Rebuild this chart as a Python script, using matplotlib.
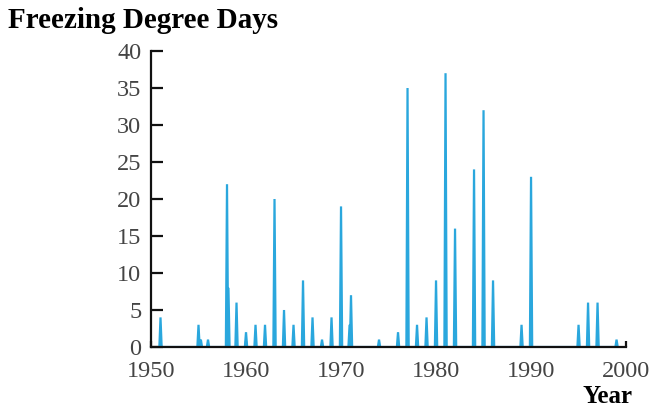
import numpy as np
import matplotlib
matplotlib.use("Agg")
import matplotlib.pyplot as plt

# peak of each winter's freezing degree days (time in years)
years = [1951, 1955, 1955.25, 1956, 1958, 1958.15, 1959, 1960, 1961, 1962,
         1963, 1964, 1965, 1966, 1967, 1968, 1969, 1970, 1970.9, 1971.05,
         1974, 1976, 1977, 1978, 1979, 1980, 1981, 1982, 1984, 1985,
         1986, 1989, 1990, 1995, 1996, 1997, 1999]
fdd = [4, 3, 1, 1, 22, 8, 6, 2, 3, 3,
       20, 5, 3, 9, 4, 1, 4, 19, 3, 7,
       1, 2, 35, 3, 4, 9, 37, 16, 24, 32,
       9, 3, 23, 3, 6, 6, 1]

yticks = [0, 5, 10, 15, 20, 25, 30, 35, 40]
xticks = [1950, 1960, 1970, 1980, 1990, 2000]

# each winter is a narrow spike that rises from zero and falls back
half = 0.12
t, v = [], []
for yr, val in zip(years, fdd):
    t += [yr - half, yr, yr + half]
    v += [0, val, 0]

plt.rcParams['font.family'] = ['Liberation Serif', 'DejaVu Serif']

fig = plt.figure(figsize=(6.52, 4.11), dpi=100)
ax = fig.add_axes([0.2316, 0.1557, 0.7286, 0.7202])

ax.plot(t, v, color="#2aa7dd", lw=1.6, solid_joinstyle="miter")

ax.set_xlim(1950, 2000)
ax.set_ylim(0, 40)
ax.set_xticks(xticks)
ax.set_yticks(yticks)

for s in ["top", "right"]:
    ax.spines[s].set_visible(False)
for s in ["left", "bottom"]:
    ax.spines[s].set_linewidth(1.6)
    ax.spines[s].set_color("#111111")

ax.tick_params(axis="y", direction="in", length=8.5, width=1.6,
               pad=7, labelsize=17.5, labelcolor="#444444", color="#111111")
ax.tick_params(axis="x", direction="in", length=4, width=1.6,
               pad=10, labelsize=17.5, labelcolor="#444444", color="#111111")

fig.text(0.012, 0.95, "Freezing Degree Days", fontsize=21,
         fontweight="bold", ha="left", va="center")
fig.text(0.97, 0.035, "Year", fontsize=18, fontweight="bold",
         ha="right", va="center")

fig.savefig("out.png", dpi=100)
